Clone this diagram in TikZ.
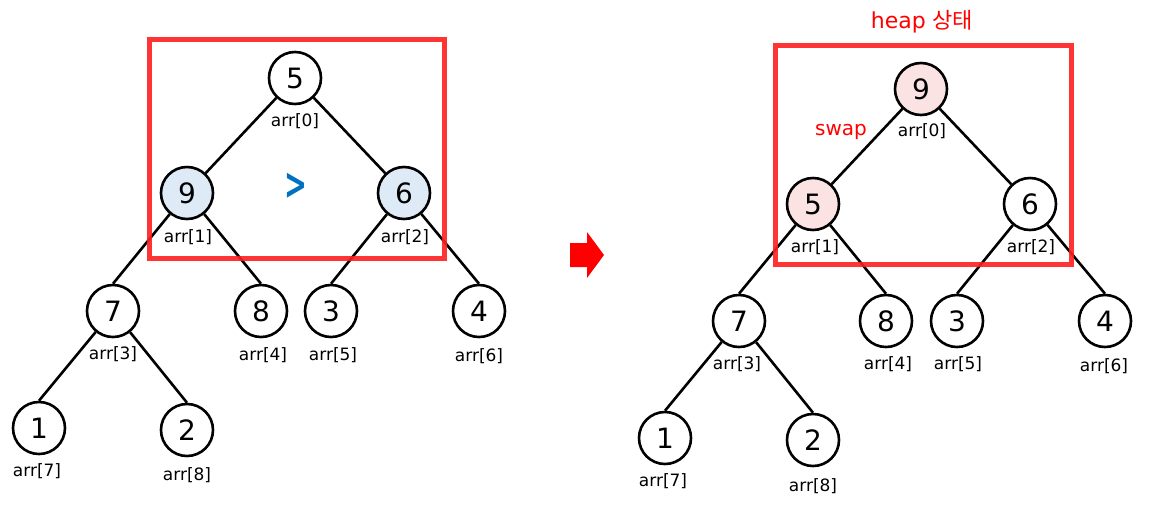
\documentclass[tikz,border=0pt]{standalone}
\usepackage{fontspec}
\setmainfont{DejaVu Sans}
\newfontfamily\krfont{Noto Sans CJK KR}
\definecolor{boxred}{RGB}{255,30,30}
\definecolor{hiblue}{RGB}{222,235,247}
\definecolor{hipink}{RGB}{252,227,227}
\definecolor{gtblue}{RGB}{0,112,192}
\begin{document}
\begin{tikzpicture}[x=1pt,y=-1pt,
  hnode/.style={circle,draw=black,line width=2.6pt,minimum size=52pt,inner sep=0pt,fill=white,font=\fontsize{28}{28}\selectfont},
  idx/.style={inner sep=0pt,font=\fontsize{17}{17}\selectfont},
  edge/.style={line width=2.6pt,black},
  hbox/.style={draw=boxred,line width=5pt,opacity=0.9},
  redtxt/.style={text=red,inner sep=0pt}]
\useasboundingbox (0,0) rectangle (1155,515);
% ---------- left tree ----------
\node[hnode] (a0) at (295,78) {5};
\node[hnode,fill=hiblue] (a1) at (187,193) {9};
\node[hnode,fill=hiblue] (a2) at (404,193) {6};
\node[hnode] (a3) at (113,311) {7};
\node[hnode] (a4) at (261,311) {8};
\node[hnode] (a5) at (331,311) {3};
\node[hnode] (a6) at (479,311) {4};
\node[hnode] (a7) at (39,428) {1};
\node[hnode] (a8) at (187,430) {2};
\draw[edge] (a0) -- (a1);
\draw[edge] (a0) -- (a2);
\draw[edge] (a1) -- (a3.north);
\draw[edge] (a1) -- (a4.north);
\draw[edge] (a2) -- (a5.north);
\draw[edge] (a2) -- (a6.north);
\draw[edge] (a3) -- (a7.north);
\draw[edge] (a3) -- (a8.north);
\node[idx] (la0) at (295,121) {arr[0]};
\node[idx] (la1) at (188,237) {arr[1]};
\node[idx] (la2) at (405,237) {arr[2]};
\node[idx] (la3) at (113,354) {arr[3]};
\node[idx] (la4) at (263,355) {arr[4]};
\node[idx] (la5) at (333,355) {arr[5]};
\node[idx] (la6) at (479,356) {arr[6]};
\node[idx] (la7) at (37,471) {arr[7]};
\node[idx] (la8) at (187,475) {arr[8]};
\node[inner sep=0pt,text=gtblue,font=\fontsize{44}{44}\selectfont\bfseries,xscale=0.62] (gt) at (296,186) {>};
\draw[hbox] (149,39) rectangle (444,258);
% ---------- arrow ----------
\fill[red] (570,243) -- (587,243) -- (587,232) -- (604,255) -- (587,278) -- (587,267) -- (570,267) -- cycle;
% ---------- right tree ----------
\node[hnode,fill=hipink] (b0) at (921,89) {9};
\node[hnode,fill=hipink] (b1) at (813,204) {5};
\node[hnode] (b2) at (1030,204) {6};
\node[hnode] (b3) at (739,321) {7};
\node[hnode] (b4) at (886,321) {8};
\node[hnode] (b5) at (957,321) {3};
\node[hnode] (b6) at (1105,321) {4};
\node[hnode] (b7) at (665,438) {1};
\node[hnode] (b8) at (813,440) {2};
\draw[edge] (b0) -- (b1);
\draw[edge] (b0) -- (b2);
\draw[edge] (b1) -- (b3.north);
\draw[edge] (b1) -- (b4.north);
\draw[edge] (b2) -- (b5.north);
\draw[edge] (b2) -- (b6.north);
\draw[edge] (b3) -- (b7.north);
\draw[edge] (b3) -- (b8.north);
\node[idx] (lb0) at (922,131) {arr[0]};
\node[idx] (lb1) at (815,247) {arr[1]};
\node[idx] (lb2) at (1031,247) {arr[2]};
\node[idx] (lb3) at (737,364) {arr[3]};
\node[idx] (lb4) at (888,364) {arr[4]};
\node[idx] (lb5) at (958,364) {arr[5]};
\node[idx] (lb6) at (1104,366) {arr[6]};
\node[idx] (lb7) at (663,481) {arr[7]};
\node[idx] (lb8) at (813,486) {arr[8]};
\node[redtxt,font=\fontsize{20}{20}\selectfont] (swap) at (841,132) {swap};
\draw[hbox] (775.5,45.5) rectangle (1071.5,264.5);
\node[redtxt,font=\fontsize{22}{22}\selectfont] (title) at (922,22) {heap {\krfont 상태}};
\end{tikzpicture}
\end{document}
